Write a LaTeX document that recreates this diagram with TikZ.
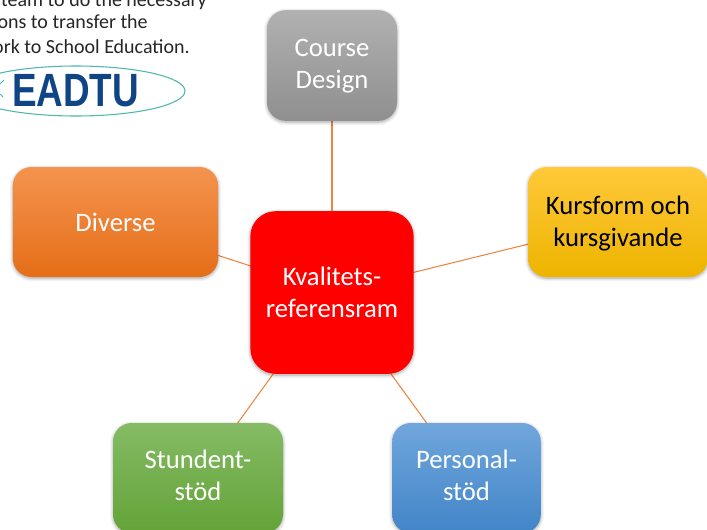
\documentclass[tikz,border=0pt]{standalone}
\usepackage{fontspec}
\setmainfont{Carlito}
\newfontfamily\logofont{Liberation Sans}
\usetikzlibrary{shapes.geometric}
\usetikzlibrary{shadows.blur}
\usetikzlibrary{backgrounds}

\definecolor{linkorange}{HTML}{EE8540}
\definecolor{logoblue}{HTML}{0F4585}
\definecolor{logoteal}{HTML}{4DB8AC}
\definecolor{notetext}{HTML}{262626}
\definecolor{graytop}{HTML}{B1B1B1}
\definecolor{graybottom}{HTML}{8F8F8F}
\definecolor{orangetop}{HTML}{F4934F}
\definecolor{orangebottom}{HTML}{E56E17}
\definecolor{yellowtop}{HTML}{FFC93A}
\definecolor{yellowbottom}{HTML}{EDB400}
\definecolor{greentop}{HTML}{85BB65}
\definecolor{greenbottom}{HTML}{63A337}
\definecolor{bluetop}{HTML}{70A6DC}
\definecolor{bluebottom}{HTML}{4285C8}

\tikzset{
    blockbox/.style={rounded corners=14pt, align=center, text=white, inner sep=0pt,
        font=\fontsize{20}{24}\selectfont,
        blur shadow={shadow xshift=0pt, shadow yshift=-1pt, shadow blur radius=2.5pt, shadow blur steps=6, shadow opacity=35}},
    link/.style={draw=linkorange, line width=0.8pt},
    note/.style={anchor=base east, inner sep=0pt, text=notetext, font=\fontsize{15}{18}\selectfont},
}

\begin{document}
\begin{tikzpicture}[x=0.75pt, y=-0.75pt]
    \clip (0,0) rectangle (707,529);

    \node[note] (line1) at (207,6) {team to do the necessary};
    \node[note] (line2) at (148,28) {ons to transfer the};
    \node[note] (line3) at (190,53) {ork to School Education.};

    \node[draw=logoteal, line width=0.8pt, ellipse, minimum width=163.5pt, minimum height=37.5pt, inner sep=0pt] (logo) at (76,91) {};
    \node[text=logoblue, inner sep=0pt, xscale=0.79, transform shape, font=\logofont\bfseries\fontsize{35}{36}\selectfont] (eadtu) at (75.5,91) {EADTU};
    \draw[logoteal, line width=0.6pt] (0,84) -- (4,80);
    \draw[logoteal, line width=0.6pt] (0,94) -- (3,97);

    \node[blockbox, top color=graytop, bottom color=graybottom, minimum width=97.5pt, minimum height=83pt] (course) at (332,65.5) {Course\\\smash{Design}\rule[-3pt]{0pt}{0pt}};
    \node[blockbox, top color=orangetop, bottom color=orangebottom, minimum width=154pt, minimum height=82.5pt] (diverse) at (115.5,222) {Diverse};
    \node[blockbox, text=black, top color=yellowtop, bottom color=yellowbottom, minimum width=135pt, minimum height=82.5pt] (kursform) at (618,222) {Kursform och\\\smash{kursgivande}\rule[-1.5pt]{0pt}{0pt}};
    \node[blockbox, rounded corners=19pt, fill=red, minimum width=122.5pt, minimum height=122pt] (center) at (332,292.5) {Kvalitets-\\referensram};
    \node[blockbox, top color=greentop, bottom color=greenbottom, minimum width=127.5pt, minimum height=82.5pt] (student) at (198,478) {Stundent-\\stöd\vphantom{g}};
    \node[blockbox, top color=bluetop, bottom color=bluebottom, minimum width=111.5pt, minimum height=82.5pt] (personal) at (466.5,478) {Personal-\\stöd\vphantom{g}};

    \begin{scope}[on background layer]
        \draw[link] (center.center) -- (course.center);
        \draw[link] (center.center) -- (kursform.center);
        \draw[link] (center.center) -- (diverse.center);
        \draw[link] (center.center) -- (student.center);
        \draw[link] (center.center) -- (personal.center);
    \end{scope}
\end{tikzpicture}
\end{document}
